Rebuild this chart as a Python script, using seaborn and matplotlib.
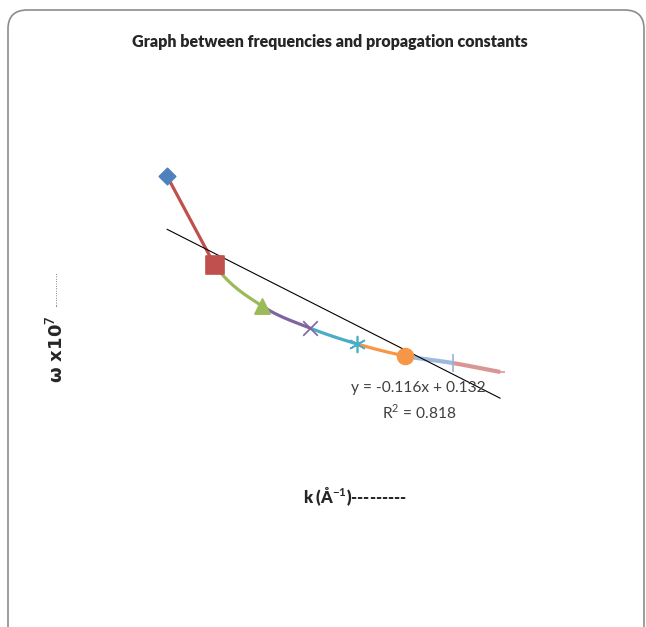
import numpy as np
import pandas as pd
import matplotlib
matplotlib.use("Agg")
import matplotlib.pyplot as plt
import seaborn as sns
from matplotlib.patches import FancyBboxPatch

sns.set_theme(style="white")
plt.rcParams['font.family'] = ['Lato', 'DejaVu Sans']
plt.rcParams['mathtext.fontset'] = 'custom'
plt.rcParams['mathtext.rm'] = 'Lato'
plt.rcParams['mathtext.bf'] = 'Lato:bold'

# ---- data ----
k_values = [0.1, 0.2, 0.3, 0.4, 0.5, 0.6, 0.7, 0.8]
omega_values = [0.1462, 0.1035, 0.0838, 0.0733, 0.0656, 0.0599, 0.0565, 0.0522]
point_markers = ['D', 's', '^', 'x', (6, 2, 0), 'o', '|', '_']
point_colors = ['#4F81BD', '#C0504D', '#9BBB59', '#8064A2', '#4BACC6', '#F79646', '#95B3D7', '#D99694']
segment_colors = ['#C0504D', '#9BBB59', '#8064A2', '#4BACC6', '#F79646', '#9FB8DD', '#D99694']
trend_label = "y = -0.116x + 0.132"
r2_label = "R$^2$ = 0.818"
title = "Graph between frequencies and propagation constants"

W, H = 646, 627
fig = plt.figure(figsize=(W / 100, H / 100), dpi=100)
fig.patch.set_facecolor('white')

# rounded outer border
border = FancyBboxPatch((8 / W, -0.05), (644 - 8) / W, 1 - 10 / H + 0.05,
                        boxstyle="round,pad=0,rounding_size=0.03",
                        transform=fig.transFigure, fill=False,
                        edgecolor='#8c8c8c', linewidth=1.2)
fig.patches.append(border)

ax = fig.add_axes([119.4 / W, 1 - 480.8 / H, 476 / W, 417 / H])
ax.set_xlim(0, 1.0)
ax.set_ylim(0, 0.2)
ax.axis('off')

k = np.array(k_values)
w = np.array(omega_values)

# smoothed segments, computed in scaled space
sx, sy = 476.0, 2085.0
P = np.column_stack([k * sx, w * sy])
ext = np.vstack([P[0] - (P[1] - P[0]), P, P[-1] + (P[-1] - P[-2])])
seg_widths = [2.3, 2.3, 2.3, 2.3, 2.3, 3.0, 3.0]
for i in range(len(k) - 1):
    p0, p1, p2, p3 = ext[i], ext[i + 1], ext[i + 2], ext[i + 3]
    t = np.linspace(0, 1, 30)[:, None]
    c1 = p1 + (p2 - p0) / 6.0
    c2 = p2 - (p3 - p1) / 6.0
    if i == 0:
        c1, c2 = p1 + (p2 - p1) / 3, p2 - (p2 - p1) / 3
    B = ((1 - t) ** 3) * p1 + 3 * ((1 - t) ** 2) * t * c1 + 3 * (1 - t) * t ** 2 * c2 + t ** 3 * p2
    seg = pd.DataFrame({'k': B[:, 0] / sx, 'w': B[:, 1] / sy})
    sns.lineplot(data=seg, x='k', y='w', ax=ax, color=segment_colors[i], linewidth=seg_widths[i],
                 sort=False, estimator=None, solid_capstyle='butt')

# trend line
sns.regplot(x=k, y=w, ax=ax, scatter=False, ci=None, truncate=True,
            line_kws=dict(color='black', linewidth=0.8, zorder=4))

sizes = [70, 150, 120, 110, 130, 130, 150, 60]
for i in range(len(k)):
    filled = point_markers[i] in ('D', 's', '^', 'o')
    sns.scatterplot(x=[k[i]], y=[w[i]], ax=ax, marker=point_markers[i], s=sizes[i],
                    color=point_colors[i], edgecolor=point_colors[i] if filled else None,
                    linewidth=1.2, zorder=5)

fig.text(418 / W, 1 - 388 / H, trend_label, fontsize=11.2, color='#404040', ha='center', va='center')
fig.text(419 / W, 1 - 412 / H, r2_label, fontsize=11.2, color='#404040', ha='center', va='center')

fig.text(330 / W, 1 - 42 / H, title, fontsize=11.5, fontweight='heavy', ha='center', va='center')
fig.text(355 / W, 1 - 497 / H, r"k (Å$^{\mathbf{-1}}$)---------", fontsize=11.8, fontweight='heavy',
         ha='center', va='center')
fig.text(56 / W, 1 - 349 / H, r"ω x10$^{\mathbf{7}}$", fontsize=13, fontweight='bold',
         ha='center', va='center', rotation=90, family=['DejaVu Sans'])
fig.text(55 / W, 1 - 289 / H, "...............", fontsize=5.5, color='#222222',
         ha='center', va='center', rotation=90, family=['DejaVu Sans'])

fig.savefig("out.png", dpi=100, facecolor='white')
